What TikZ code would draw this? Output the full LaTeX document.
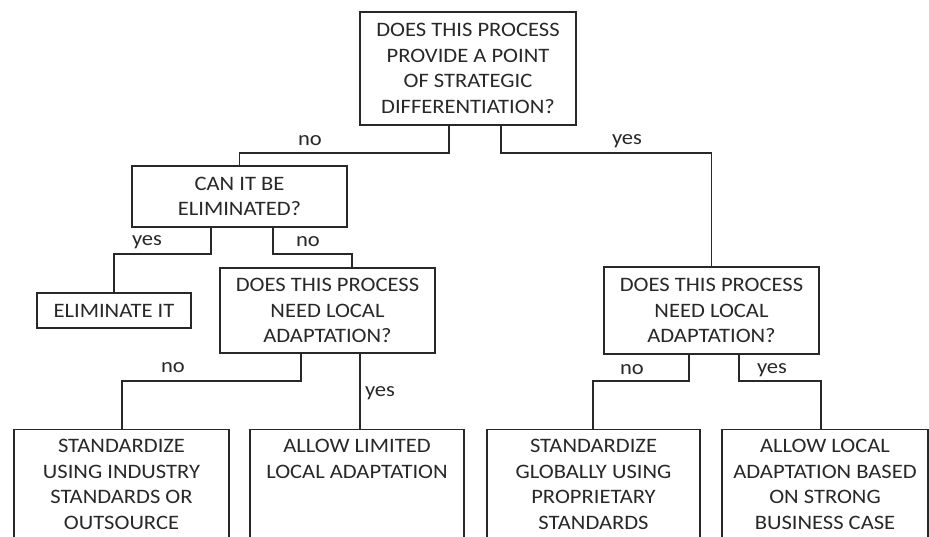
\documentclass[tikz,border=0pt]{standalone}
\usepackage{fontspec}
\setmainfont[FakeStretch=1.1]{Carlito}
\definecolor{ink}{RGB}{40,40,40}
\begin{document}
\begin{tikzpicture}[x=1pt,y=-1pt,
  every node/.style={text=ink},
  box/.style={draw=ink, line width=1.3pt, inner sep=0pt, align=center,
    font=\fontsize{20.5}{25.5}\selectfont},
  lbl/.style={font=\fontsize{20.5}{24}\selectfont, inner sep=0pt},
  conn/.style={draw=ink, line width=1.3pt}]
\useasboundingbox (0,0) rectangle (929,537);
\clip (0,0) rectangle (929,537);
\fill[white] (0,0) rectangle (929,537);
% boxes
\node[box, minimum width=216, minimum height=113] (top) at (468,68.5)
  {DOES THIS PROCESS\\PROVIDE A POINT\\OF STRATEGIC\\DIFFERENTIATION?};
\node[box, minimum width=215, minimum height=61] (elim) at (239.5,196.5)
  {CAN IT BE\\ELIMINATED?};
\node[box, minimum width=154, minimum height=35] (elimit) at (114,310.5)
  {ELIMINATE IT};
\node[box, minimum width=215, minimum height=85] (adaptL) at (327.5,310.5)
  {DOES THIS PROCESS\\NEED LOCAL\\ADAPTATION?};
\node[box, minimum width=215, minimum height=87] (adaptR) at (711.5,310.5)
  {DOES THIS PROCESS\\NEED LOCAL\\ADAPTATION?};
\newcommand{\bottomtext}[2]{\parbox[t][140pt][t]{#1pt}{\centering\vspace{10pt}#2}}
\node[box, anchor=north] (stdind) at (121.5,429)
  {\bottomtext{215}{STANDARDIZE\\USING INDUSTRY\\STANDARDS OR\\OUTSOURCE}};
\node[box, anchor=north] (limited) at (357,429)
  {\bottomtext{214}{ALLOW LIMITED\\LOCAL ADAPTATION}};
\node[box, anchor=north] (stdglob) at (593.5,429)
  {\bottomtext{213}{STANDARDIZE\\GLOBALLY USING\\PROPRIETARY\\STANDARDS}};
\node[box, anchor=north] (strong) at (825,429)
  {\bottomtext{206}{ALLOW LOCAL\\ADAPTATION BASED\\ON STRONG\\BUSINESS CASE}};
% connectors
\draw[conn] (top.south -| 449,0) -- (449,153) -| (elim.north);
\draw[conn] (top.south -| 501,0) -- (501,153) -| (adaptR.north);
\draw[conn] (elim.south -| 211,0) -- (211,254) -| (elimit.north);
\draw[conn] (elim.south -| 273,0) -- (273,254) -| (adaptL.north -| 352,0);
\draw[conn] (adaptL.south -| 301,0) -- (301,381) -| (stdind.north -| 122,0);
\draw[conn] (adaptL.south -| 360,0) -- (limited.north -| 360,0);
\draw[conn] (adaptR.south -| 689,0) -- (689,381) -| (stdglob.north -| 593,0);
\draw[conn] (adaptR.south -| 739,0) -- (739,381) -| (strong.north -| 821,0);
% labels
\node[lbl] (l1) at (310,141) {no};
\node[lbl] (l2) at (627,141) {yes};
\node[lbl] (l3) at (147,242) {yes};
\node[lbl] (l4) at (308,242) {no};
\node[lbl] (l5) at (173,368) {no};
\node[lbl] (l6) at (380,393) {yes};
\node[lbl] (l7) at (632,370) {no};
\node[lbl] (l8) at (772,370) {yes};
\end{tikzpicture}
\end{document}
